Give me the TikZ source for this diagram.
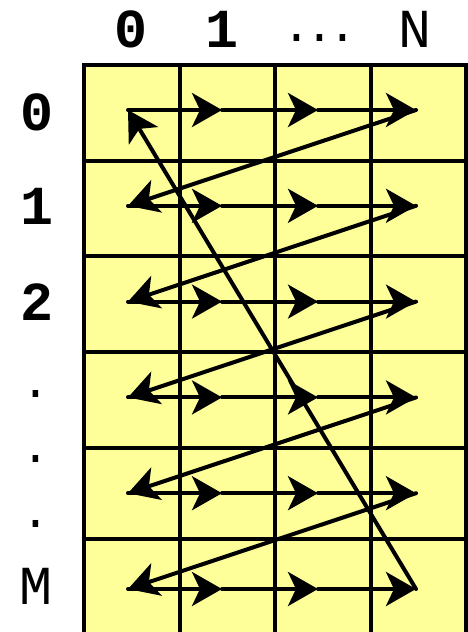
\documentclass[tikz,border=0pt]{standalone}
\usepackage{fontspec}
\setmonofont{Liberation Mono}
\usetikzlibrary{arrows.meta}
\definecolor{cellyellow}{RGB}{255,255,153}
\begin{document}
\begin{tikzpicture}[x=1pt,y=-1pt,
  gridline/.style={line width=4pt},
  flow/.style={line width=4pt, line cap=round, -{Stealth[length=30pt,width=34pt,inset=8pt]}},
  digit/.style={inner sep=0pt, font=\fontsize{55}{55}\selectfont\ttfamily\bfseries},
  lbl/.style={inner sep=0pt, font=\fontsize{55}{55}\selectfont\ttfamily}]
\useasboundingbox (0,0) rectangle (468,632);
\begin{scope}
  \clip (0,0) rectangle (468,632);
  \fill[cellyellow] (84,65) rectangle (466,700);
  \foreach \x in {179.5,275,370.5} \draw[gridline] (\x,65) -- (\x,700);
  \foreach \y in {161,256,352,448,539} \draw[gridline] (84,\y) -- (466,\y);
  \draw[gridline] (84,65) rectangle (466,700);
\end{scope}
% grid points
\foreach \r in {0,...,5} {
  \pgfmathsetmacro{\yy}{110+95.8*\r}
  \coordinate (p\r-0) at (128,\yy);
  \coordinate (p\r-1) at (222,\yy);
  \coordinate (p\r-2) at (318,\yy);
  \coordinate (p\r-3) at (416,\yy);
}
% row arrows
\foreach \r in {0,...,5} {
  \draw[flow] (p\r-0) -- (p\r-1);
  \draw[flow] (p\r-1) -- (p\r-2);
  \draw[flow] (p\r-2) -- (p\r-3);
}
% return diagonals
\foreach \r [evaluate=\r as \n using int(\r+1)] in {0,...,4} {
  \draw[flow] (p\r-3) -- (p\n-0);
}
\draw[flow] (p5-3) -- (p0-0);
% column labels
\node[digit] (c0) at (131,29) {0};
\node[digit] (c1) at (222,29) {1};
\node[lbl, font=\fontsize{48}{48}\selectfont\ttfamily] (cd) at (320,38) {.\kern-6pt.\kern-6pt.};
\node[lbl] (cN) at (415,29) {N};
% row labels
\node[digit] (r0) at (37,112) {0};
\node[digit] (r1) at (37,206) {1};
\node[digit] (r2) at (37,302) {2};
\node[lbl, font=\fontsize{48}{48}\selectfont\ttfamily] (rd1) at (36,394) {.};
\node[lbl, font=\fontsize{48}{48}\selectfont\ttfamily] (rd2) at (36,459) {.};
\node[lbl, font=\fontsize{48}{48}\selectfont\ttfamily] (rd3) at (36,524) {.};
\node[lbl] (rM) at (36,586) {M};
\end{tikzpicture}
\end{document}
